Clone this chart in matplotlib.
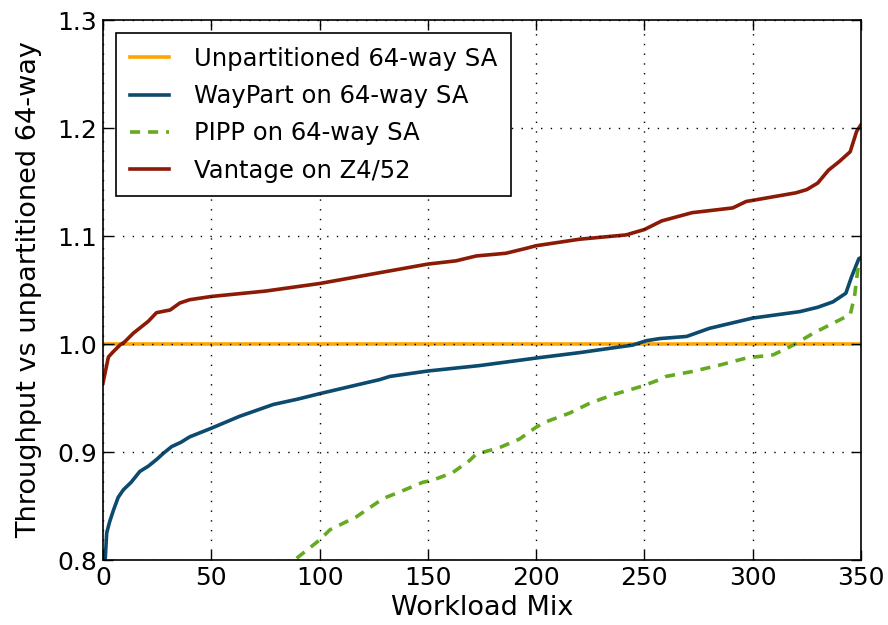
import matplotlib
matplotlib.use("Agg")
import matplotlib.pyplot as plt

# ---- data ----
unpart_x = [0, 350]
unpart_y = [1.0, 1.0]

waypart_x = [1, 1.7, 3, 4.8, 7, 9.4, 13, 17, 21, 24.7, 28, 31.7, 36, 40, 45, 50, 63, 78.6, 90, 100,
             117, 127.7, 132.5, 150, 173.8, 200, 220, 244.6, 250.8, 257, 269.5, 280, 300, 321.8,
             330, 337, 343, 345.6, 349, 350]
waypart_y = [0.80, 0.825, 0.835, 0.846, 0.858, 0.865, 0.872, 0.882, 0.887, 0.893, 0.899, 0.905,
             0.909, 0.914, 0.918, 0.922, 0.933, 0.944, 0.949, 0.954, 0.962, 0.967, 0.970, 0.975,
             0.980, 0.987, 0.992, 0.999, 1.003, 1.005, 1.007, 1.0145, 1.024, 1.030, 1.034, 1.039,
             1.047, 1.062, 1.079, 1.080]

pipp_x = [89.4, 100, 104.8, 117, 129.4, 137, 147.7, 152, 161.5, 169.2, 172.3, 183, 192.3, 200,
          204.6, 215.4, 224.6, 235.4, 249, 257, 260, 272, 285, 297, 309.5, 318.7, 328, 341.8,
          345, 347, 348.7, 350]
pipp_y = [0.8016, 0.8185, 0.828, 0.840, 0.857, 0.863, 0.872, 0.8737, 0.881, 0.892, 0.898, 0.904,
          0.912, 0.923, 0.928, 0.936, 0.945, 0.953, 0.961, 0.967, 0.970, 0.9745, 0.9806, 0.987,
          0.990, 0.999, 1.010, 1.024, 1.027, 1.044, 1.0716, 1.075]

vantage_x = [0, 2.5, 4.8, 7.8, 10, 14, 20.9, 24.7, 31, 35.5, 40, 50, 75, 100, 127.7, 150, 163,
             172.3, 186, 195.4, 200, 220, 241.5, 250, 258, 272, 290.8, 297, 300, 320, 325, 330,
             335, 340, 345, 348, 350]
vantage_y = [0.964, 0.988, 0.993, 0.999, 1.002, 1.010, 1.021, 1.029, 1.0315, 1.038, 1.041, 1.044,
             1.049, 1.056, 1.066, 1.074, 1.077, 1.0815, 1.084, 1.0886, 1.091, 1.097, 1.101, 1.106,
             1.114, 1.1216, 1.126, 1.132, 1.133, 1.140, 1.143, 1.149, 1.161, 1.169, 1.178, 1.197,
             1.203]

labels = ["Unpartitioned 64-way SA", "WayPart on 64-way SA", "PIPP on 64-way SA", "Vantage on Z4/52"]
xticks = [0, 50, 100, 150, 200, 250, 300, 350]
yticks = [0.8, 0.9, 1.0, 1.1, 1.2, 1.3]

# ---- plot ----
plt.rcParams['font.family'] = ['DejaVu Sans']
fig = plt.figure(figsize=(8.88, 6.25), dpi=100)
ax = fig.add_axes([0.116, 0.104, 0.8536, 0.864])

lw = 2.6
ax.plot(unpart_x, unpart_y, color='#ffa500', lw=lw, label=labels[0])
ax.plot(waypart_x, waypart_y, color='#0c4a6e', lw=lw, label=labels[1])
ax.plot(pipp_x, pipp_y, color='#66aa22', lw=lw, ls=(0, (2.8, 2.2)), label=labels[2])
ax.plot(vantage_x, vantage_y, color='#8b1a06', lw=lw, label=labels[3])

ax.set_xlim(0, 350)
ax.set_ylim(0.8, 1.3)
ax.set_xticks(xticks)
ax.set_yticks(yticks)
ax.set_yticklabels([f"{v:.1f}" for v in yticks])
ax.tick_params(direction='in', length=7, width=1, top=True, right=True, labelsize=18, pad=4)
ax.set_axisbelow(False)
ax.grid(True, linestyle=(0, (1, 6)), color='black', lw=1)
for s in ax.spines.values():
    s.set_linewidth(1.2)

ax.set_xlabel("Workload Mix", fontsize=19.5, labelpad=4)
ax.set_ylabel("Throughput vs unpartitioned 64-way", fontsize=19.5, labelpad=11)

leg = ax.legend(loc='upper left', fontsize=17.5, fancybox=False, framealpha=1, edgecolor='black',
                handlelength=1.6, handletextpad=1.05, labelspacing=0.55, borderaxespad=0.55,
                borderpad=0.55)
leg.get_frame().set_linewidth(1.2)

fig.savefig("out.png", dpi=100)
